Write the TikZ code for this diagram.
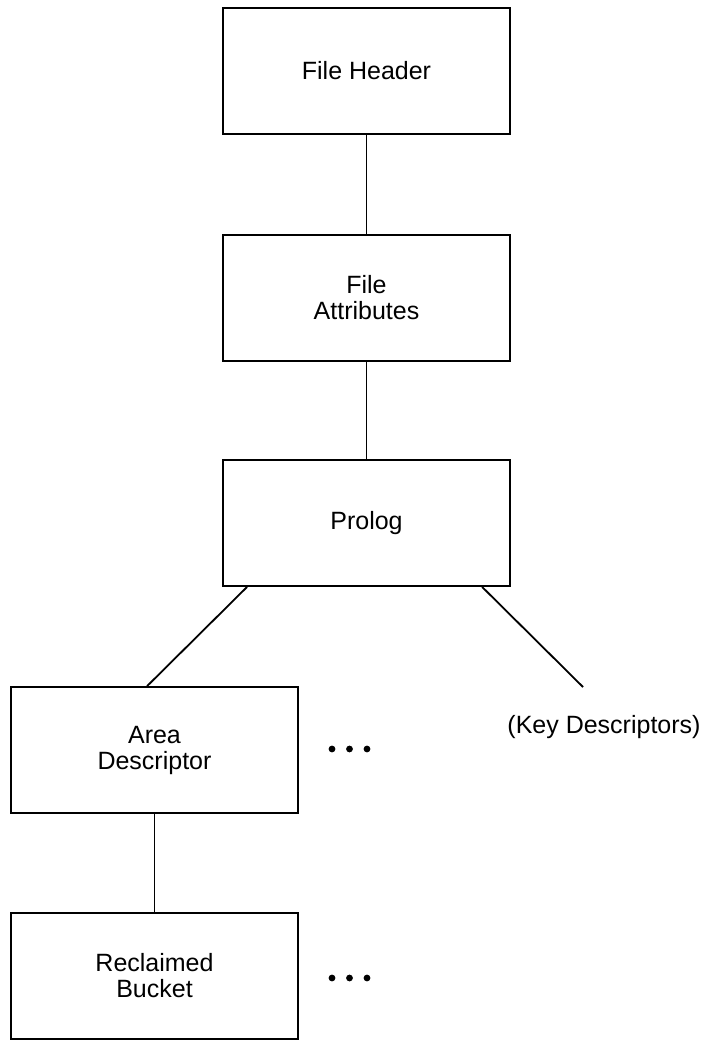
\documentclass[tikz,border=0pt]{standalone}
\usepackage{fontspec}
\setmainfont{Liberation Sans}
\usetikzlibrary{calc}
\begin{document}
\begin{tikzpicture}[x=1pt,y=-1pt,
  box/.style={draw, line width=1.8pt, minimum width=287pt, minimum height=126pt,
    inner sep=0pt, align=center, font=\fontsize{25}{26}\selectfont},
  lbl/.style={inner sep=0pt, font=\fontsize{25}{26}\selectfont},
  conn/.style={draw, line width=1.8pt},
  dot/.style={fill=black}]
\useasboundingbox (0,0) rectangle (705,1040);
\node[box] (hdr) at (366.5,71) {File Header};
\node[box] (attr) at (366.5,298) {File\\Attributes};
\node[box] (prolog) at (366.5,523) {Prolog};
\node[box] (area) at (154.5,750) {Area\\Descriptor};
\node[box] (bucket) at (154.5,976) {Reclaimed\\Bucket};
\node[lbl, anchor=base] (key) at (604,733) {(Key Descriptors)};
\coordinate (keyend) at (583,687);
\draw[conn] (hdr.south) -- (attr.north);
\draw[conn] (attr.south) -- (prolog.north);
\draw[conn] ($(prolog.south west)+(25,0)$) -- ($(area.north west)+(137,0)$);
\draw[conn] ($(prolog.south west)+(260,0)$) -- (keyend);
\draw[conn] (area.south) -- (bucket.north);
\fill[dot] (332,749) circle (3.4) (349.5,749) circle (3.4) (367,749) circle (3.4);
\fill[dot] (332,978) circle (3.4) (349.5,978) circle (3.4) (367,978) circle (3.4);
\end{tikzpicture}
\end{document}
